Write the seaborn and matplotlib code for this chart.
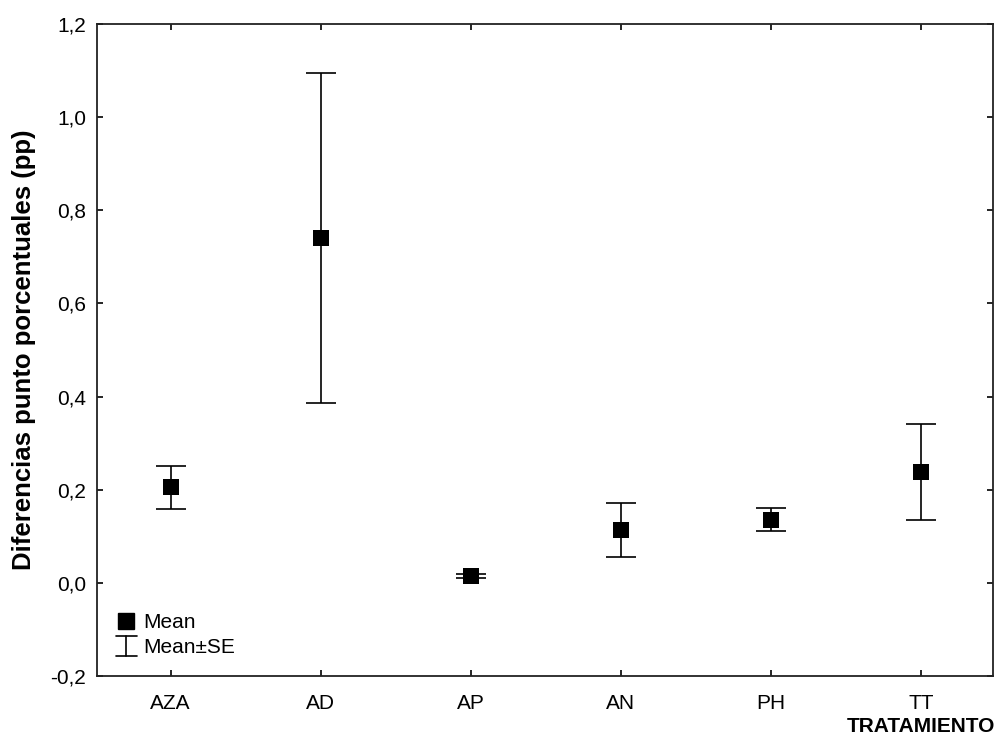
import matplotlib
matplotlib.use("Agg")
import matplotlib.pyplot as plt
import seaborn as sns
import pandas as pd
from matplotlib.lines import Line2D
from matplotlib.legend_handler import HandlerBase

categories = ["AZA", "AD", "AP", "AN", "PH", "TT"]
means = [0.206, 0.741, 0.015, 0.114, 0.135, 0.238]
upper = [0.251, 1.095, 0.019, 0.172, 0.161, 0.341]
lower = [0.159, 0.387, 0.011, 0.056, 0.112, 0.135]
y_ticks = [-0.2, 0.0, 0.2, 0.4, 0.6, 0.8, 1.0, 1.2]

df = pd.DataFrame({"TRATAMIENTO": categories, "mean": means,
                   "upper": upper, "lower": lower})

sns.set_style("ticks")
plt.rcParams["font.family"] = ["Liberation Sans", "DejaVu Sans"]
plt.rcParams["text.color"] = "black"
plt.rcParams["axes.labelcolor"] = "black"
plt.rcParams["xtick.color"] = "black"
plt.rcParams["ytick.color"] = "black"

fig = plt.figure(figsize=(9.96, 7.42), dpi=100)
ax = fig.add_axes([97 / 996, 1 - 676 / 742, (993 - 97) / 996, (676 - 24) / 742])

yerr = [df["mean"] - df["lower"], df["upper"] - df["mean"]]
ax.errorbar(df["TRATAMIENTO"], df["mean"], yerr=yerr, fmt="none",
            ecolor="black", elinewidth=1.2, capsize=11, capthick=1.2, zorder=2)
sns.scatterplot(data=df, x="TRATAMIENTO", y="mean", marker="s", s=120,
                color="black", edgecolor="black", linewidth=0, ax=ax, zorder=3,
                legend=False)

ax.set_xlim(-0.49, 5.48)
ax.set_ylim(-0.2, 1.2)
ax.set_yticks(y_ticks)
ax.set_yticklabels([f"{v:.1f}".replace(".", ",") for v in y_ticks])
ax.tick_params(axis="both", direction="in", length=4, width=1.2,
               labelsize=15, top=True, right=True, pad=8, colors="black")
ax.tick_params(axis="x", pad=13)
for s in ax.spines.values():
    s.set_visible(True)
    s.set_linewidth(1.3)
    s.set_color("#222222")

ax.set_xlabel("")
ax.set_ylabel("Diferencias punto porcentuales (pp)", fontsize=18.5,
              fontweight="bold", labelpad=10, color="black")
fig.text(995 / 996, 1 - 727 / 742, "TRATAMIENTO", ha="right", va="center",
         fontsize=15, fontweight="bold", color="black")


class ErrGlyph:
    pass


class HandlerErrGlyph(HandlerBase):
    def create_artists(self, legend, orig_handle, xdescent, ydescent, width,
                       height, fontsize, trans):
        cx = width / 2 - xdescent
        h = height * 1.4
        y0 = -ydescent + (height - h) / 2
        w = width * 1.0
        arts = [
            Line2D([cx, cx], [y0, y0 + h], color="black", lw=1.2),
            Line2D([cx - w / 2, cx + w / 2], [y0, y0], color="black", lw=1.2),
            Line2D([cx - w / 2, cx + w / 2], [y0 + h, y0 + h], color="black", lw=1.2),
        ]
        for a in arts:
            a.set_transform(trans)
        return arts


mean_handle = Line2D([], [], marker="s", color="black", linestyle="none",
                     markersize=11)
ax.legend([mean_handle, ErrGlyph()], ["Mean", "Mean±SE"], loc="lower left",
          bbox_to_anchor=(-0.002, -0.003), frameon=False, fontsize=15,
          handlelength=1.0, handletextpad=0.3, labelspacing=0.3,
          borderaxespad=0.6, handler_map={ErrGlyph: HandlerErrGlyph()})

fig.savefig("out.png", dpi=100)
